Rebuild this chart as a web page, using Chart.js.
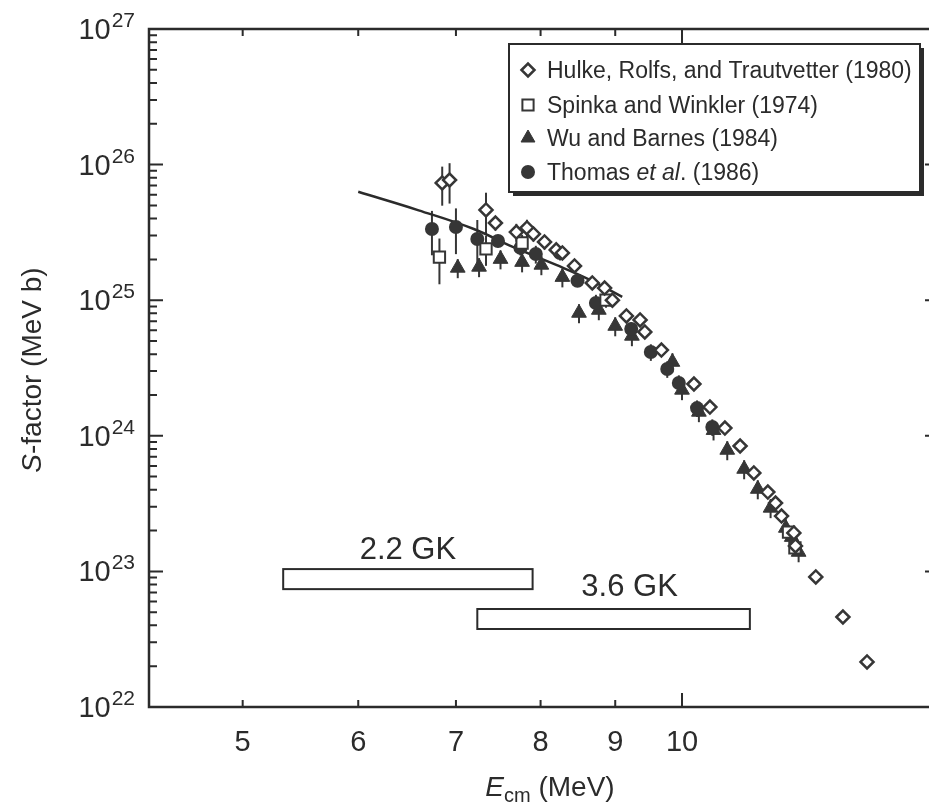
<!DOCTYPE html>
<html><head><meta charset="utf-8">
<style>html,body{margin:0;padding:0;background:#fff;overflow:hidden;width:929px;height:808px}canvas{display:block}</style>
<script src="https://cdn.jsdelivr.net/npm/chart.js@4.4.0/dist/chart.umd.min.js"></script>
</head><body><canvas id="c" width="960" height="808"></canvas>
<script>
// ---- data (E_cm in MeV, S-factor in MeV b) ----
const hulkeE = [6.85,6.93,7.34,7.45,7.70,7.83,7.91,8.05,8.20,8.28,8.44,8.68,8.85,8.96,9.16,9.36,9.43,9.68,10.19,10.45,10.70,10.96,11.20,11.45,11.59,11.70,11.93,11.96,12.35,12.89,13.39];
const hulkeS = [7.32e25,7.7e25,4.63e25,3.71e25,3.18e25,3.41e25,3.08e25,2.69e25,2.35e25,2.23e25,1.79e25,1.34e25,1.23e25,1.00e25,7.65e24,7.15e24,5.83e24,4.29e24,2.41e24,1.63e24,1.14e24,8.41e23,5.32e23,3.85e23,3.19e23,2.56e23,1.92e23,1.54e23,9.1e22,4.61e22,2.15e22];
const hulkeErr = [0.32,0.33,0.34,0.12,0.15,0.15,0.12,0.12,0.1,0.1,0.1,0.08,0.08,0.08,0.06,0.06,0.06,0.06,0.06,0.06,0.06,0.06,0.06,0.06,0.06,0.06,0.06,0.06,0.05,0.05,0.05];

const spinkaE = [6.82,7.34,7.77,8.87,11.83,11.95];
const spinkaS = [2.08e25,2.39e25,2.64e25,1.00e25,1.95e23,1.49e23];
const spinkaErr = [0.37,0.25,0.15,0.12,0.1,0.08];

const wuE = [7.02,7.26,7.51,7.77,8.01,8.28,8.50,8.77,9.00,9.24,9.85,10.0,10.27,10.51,10.74,11.03,11.27,11.50,11.78,11.89,12.02];
const wuS = [1.73e25,1.76e25,2.01e25,1.91e25,1.82e25,1.48e25,8.05e24,8.47e24,6.45e24,5.45e24,3.50e24,2.18e24,1.50e24,1.10e24,7.86e23,5.69e23,4.05e23,2.94e23,2.09e23,1.79e23,1.39e23];
const wuErr = [0.16,0.16,0.16,0.16,0.16,0.16,0.16,0.16,0.16,0.16,0.16,0.16,0.16,0.16,0.16,0.16,0.16,0.16,0.16,0.16,0.16];

const thomasE = [6.74,7.00,7.24,7.48,7.75,7.94,8.25,8.48,8.73,9.23,9.52,9.77,9.95,10.24,10.49];
const thomasS = [3.35e25,3.47e25,2.83e25,2.73e25,2.43e25,2.19e25,2.23e25,1.39e25,9.53e24,6.13e24,4.15e24,3.11e24,2.45e24,1.60e24,1.16e24];
const thomasErr = [0.36,0.37,0.38,0.1,0.12,0.15,0.12,0.1,0.15,0.12,0.14,0.14,0.14,0.14,0.14];

const theoryE = [6.0,6.6,7.2,7.65,8.2,8.64,9.1];
const theoryS = [6.3e25,4.6e25,3.35e25,2.48e25,1.82e25,1.42e25,1.06e25];

const seriesLabels = ['Hulke, Rolfs, and Trautvetter (1980)','Spinka and Winkler (1974)','Wu and Barnes (1984)','Thomas et al. (1986)'];

const windowLabels = ['2.2 GK','3.6 GK'];
const windowEmin = [5.33,7.24];
const windowEmax = [7.90,11.13];
const windowSlo = [7.4e22,3.76e22];
const windowShi = [1.04e23,5.28e22];

const xTicks = [5,6,7,8,9,10];
const xTickLabels = ['5','6','7','8','9','10'];
const yTicks = [1e22,1e23,1e24,1e25,1e26,1e27];
const yTickExp = ['22','23','24','25','26','27'];

// ---- styling ----
const INK = '#2b2b2b';
const MARK = '#363636';
const FONT = '"Liberation Sans", Arial, Helvetica, sans-serif';

function pts(E,S){ return E.map((e,i)=>({x:e,y:S[i]})); }

function drawMarker(ctx, style, x, y){
  ctx.save();
  ctx.beginPath();
  if(style==='diamond'){
    const r=6.5; ctx.moveTo(x-r,y); ctx.lineTo(x,y-r); ctx.lineTo(x+r,y); ctx.lineTo(x,y+r); ctx.closePath();
    ctx.fillStyle='#fff'; ctx.fill(); ctx.lineWidth=2.5; ctx.strokeStyle=MARK; ctx.stroke();
  } else if(style==='square'){
    const h=5.6; ctx.rect(x-h,y-h,2*h,2*h);
    ctx.fillStyle='#fff'; ctx.fill(); ctx.lineWidth=2; ctx.strokeStyle=MARK; ctx.stroke();
  } else if(style==='triangle'){
    const r=8; ctx.moveTo(x,y-r); ctx.lineTo(x+r*0.866,y+r*0.5); ctx.lineTo(x-r*0.866,y+r*0.5); ctx.closePath();
    ctx.fillStyle=MARK; ctx.fill(); ctx.lineWidth=1; ctx.strokeStyle=MARK; ctx.stroke();
  } else {
    ctx.arc(x,y,7,0,Math.PI*2);
    ctx.fillStyle=MARK; ctx.fill();
  }
  ctx.restore();
}

const decor = {
  id:'decor',
  beforeDatasetsDraw(chart){
    const {ctx, scales:{x,y}} = chart;
    ctx.save();
    // temperature windows
    ctx.strokeStyle=INK; ctx.lineWidth=2;
    ctx.font='31px '+FONT; ctx.fillStyle=INK; ctx.textAlign='center'; ctx.textBaseline='alphabetic';
    const labelDx=[0,16], labelDy=[10,13];
    for(let i=0;i<windowLabels.length;i++){
      const x0=x.getPixelForValue(windowEmin[i]), x1=x.getPixelForValue(windowEmax[i]);
      const y0=y.getPixelForValue(windowShi[i]), y1=y.getPixelForValue(windowSlo[i]);
      ctx.strokeRect(x0,y0,x1-x0,y1-y0);
      const xc=x.getPixelForValue(Math.sqrt(windowEmin[i]*windowEmax[i]));
      ctx.fillText(windowLabels[i], xc+labelDx[i], y0-labelDy[i]);
    }
    // error bars
    ctx.strokeStyle=MARK; ctx.lineWidth=2;
    chart.data.datasets.forEach(d=>{
      if(!d.err) return;
      d.data.forEach((p,i)=>{
        const e=d.err[i], px=x.getPixelForValue(p.x);
        ctx.beginPath();
        ctx.moveTo(px,y.getPixelForValue(p.y*(1+e)));
        ctx.lineTo(px,y.getPixelForValue(p.y*(1-e)));
        ctx.stroke();
      });
    });
    ctx.restore();
  },
  afterDraw(chart){
    const {ctx, chartArea:a, scales:{x,y}} = chart;
    ctx.save();
    // frame
    ctx.strokeStyle=INK; ctx.lineWidth=2.5;
    ctx.strokeRect(a.left,a.top,a.right-a.left,a.bottom-a.top);
    // y ticks (left & right), major + minor
    ctx.lineWidth=2;
    for(let d=22; d<27; d++){
      for(let m=1;m<=9;m++){
        const v=m*Math.pow(10,d);
        const py=y.getPixelForValue(v);
        const len = m===1?14:8;
        ctx.beginPath(); ctx.moveTo(a.left,py); ctx.lineTo(a.left+len,py);
        ctx.moveTo(a.right,py); ctx.lineTo(a.right-len,py); ctx.stroke();
      }
    }
    // x ticks (bottom & top)
    xTicks.forEach(v=>{
      const px=x.getPixelForValue(v), len = v===10?14:7;
      ctx.beginPath(); ctx.moveTo(px,a.bottom); ctx.lineTo(px,a.bottom-len);
      ctx.moveTo(px,a.top); ctx.lineTo(px,a.top+len); ctx.stroke();
    });
    // tick labels
    ctx.fillStyle=INK;
    ctx.font='29px '+FONT; ctx.textAlign='center'; ctx.textBaseline='alphabetic';
    xTicks.forEach((v,i)=>{ ctx.fillText(xTickLabels[i], x.getPixelForValue(v), 751); });
    yTicks.forEach((v,i)=>{
      const py=y.getPixelForValue(v);
      ctx.font='21px '+FONT; const sw=ctx.measureText(yTickExp[i]).width;
      ctx.textAlign='left'; ctx.fillText(yTickExp[i], a.left-14-sw, py-2);
      ctx.font='29px '+FONT; ctx.textAlign='right'; ctx.fillText('10', a.left-14-sw-1, py+10);
    });
    // x title
    ctx.textAlign='left';
    const f1='italic 28px '+FONT, f2='20px '+FONT, f3='28px '+FONT;
    ctx.font=f1; const wE=ctx.measureText('E').width;
    ctx.font=f2; const wS=ctx.measureText('cm').width;
    ctx.font=f3; const wR=ctx.measureText(' (MeV)').width;
    let sx=550-(wE+wS+wR)/2, by=796;
    ctx.font=f1; ctx.fillText('E',sx,by); sx+=wE;
    ctx.font=f2; ctx.fillText('cm',sx,by+6); sx+=wS;
    ctx.font=f3; ctx.fillText(' (MeV)',sx,by);
    // y title
    ctx.save();
    ctx.translate(41,370); ctx.rotate(-Math.PI/2);
    ctx.font=f1; const w1=ctx.measureText('S').width;
    ctx.font=f3; const w2=ctx.measureText('-factor (MeV b)').width;
    let tx=-(w1+w2)/2;
    ctx.font=f1; ctx.fillText('S',tx,0); tx+=w1;
    ctx.font=f3; ctx.fillText('-factor (MeV b)',tx,0);
    ctx.restore();
    // legend
    const L=509,T=44,R=920,B=192;
    ctx.fillStyle=INK; ctx.fillRect(L+4,T+4,R-L,B-T);
    ctx.fillStyle='#fff'; ctx.fillRect(L,T,R-L,B-T);
    ctx.strokeStyle=INK; ctx.lineWidth=2; ctx.strokeRect(L,T,R-L,B-T);
    const styles=['diamond','square','triangle','circle'];
    const rows=[70,105,138,172];
    const LF='23px ';
    ctx.textAlign='left'; ctx.fillStyle=INK;
    seriesLabels.forEach((lab,i)=>{
      drawMarker(ctx, styles[i], 528, rows[i]);
      ctx.fillStyle=INK;
      const by2=rows[i]+8;
      const k=lab.indexOf('et al.');
      if(k<0){ ctx.font=LF+FONT; ctx.fillText(lab,547,by2); }
      else {
        let tx2=547;
        const parts=[[lab.slice(0,k),LF],['et al','italic '+LF],[lab.slice(k+5),LF]];
        parts.forEach(p=>{ ctx.font=p[1]+FONT; ctx.fillText(p[0],tx2,by2); tx2+=ctx.measureText(p[0]).width; });
      }
    });
    ctx.restore();
  }
};

const chart = new Chart(document.getElementById('c'), {
  type:'scatter',
  data:{ datasets:[
    {label:seriesLabels[0], data:pts(hulkeE,hulkeS), err:hulkeErr, order:1, pointStyle:'rectRot', pointRadius:6.5, pointHoverRadius:6.5, pointBackgroundColor:'#fff', pointBorderColor:MARK, pointBorderWidth:2.5},
    {label:seriesLabels[1], data:pts(spinkaE,spinkaS), err:spinkaErr, order:2, pointStyle:'rect', pointRadius:8, pointHoverRadius:8, pointBackgroundColor:'#fff', pointBorderColor:MARK, pointBorderWidth:2},
    {label:seriesLabels[2], data:pts(wuE,wuS), err:wuErr, order:4, pointStyle:'triangle', pointRadius:8.5, pointHoverRadius:8.5, pointBackgroundColor:MARK, pointBorderColor:MARK, pointBorderWidth:1},
    {label:seriesLabels[3], data:pts(thomasE,thomasS), err:thomasErr, order:3, pointStyle:'circle', pointRadius:7, pointHoverRadius:7, pointBackgroundColor:MARK, pointBorderColor:MARK, pointBorderWidth:0},
    {label:'theory', data:pts(theoryE,theoryS), order:5, showLine:true, pointRadius:0, borderColor:INK, borderWidth:2.5, tension:0.4, fill:false}
  ]},
  options:{
    responsive:false, animation:false, devicePixelRatio:1,
    layout:{padding:{left:149,top:29,right:21,bottom:101}},
    plugins:{legend:{display:false}, tooltip:{enabled:false}},
    scales:{
      x:{type:'logarithmic', min:4.313, max:15, display:false},
      y:{type:'logarithmic', min:1e22, max:1e27, display:false}
    }
  },
  plugins:[decor]
});
</script></body></html>
